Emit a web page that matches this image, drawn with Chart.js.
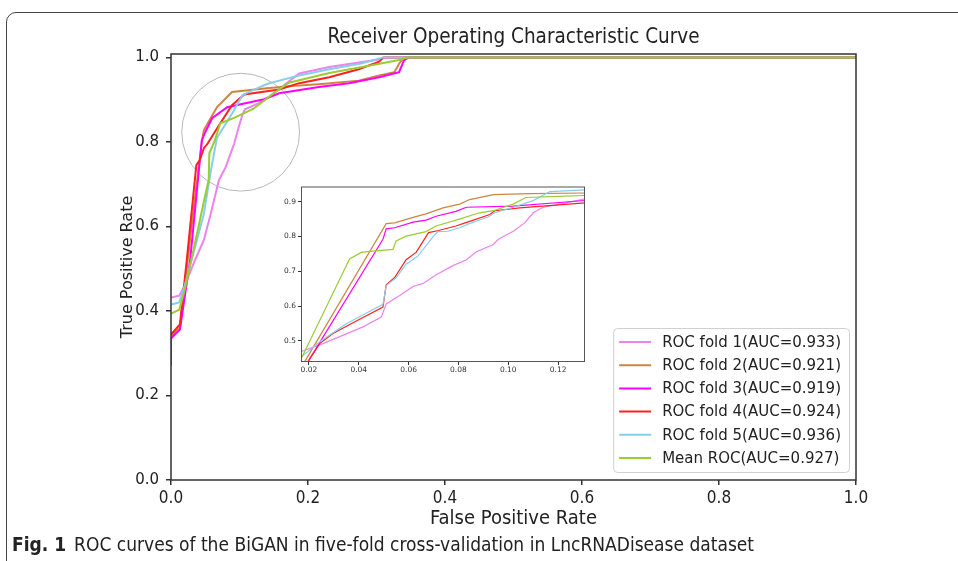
<!DOCTYPE html>
<html>
<head>
<meta charset="utf-8">
<title>ROC curves</title>
<script src="https://cdn.jsdelivr.net/npm/chart.js@4.4.0/dist/chart.umd.min.js"></script>
<style>
    html, body { margin: 0; padding: 0; background: #fff; }
    body { width: 958px; height: 561px; position: relative; overflow: hidden; }
    #frame {
        position: absolute; left: 6px; top: 12px; width: 1000px; height: 600px;
        border: 1px solid #444; border-radius: 10px; box-sizing: border-box;
    }
    #rocChart { position: absolute; left: 0; top: 0; }
    #insetChart { position: absolute; left: 270px; top: 180px; }
    #caption {
        position: absolute; left: 12px; top: 534px; line-height: 20px;
        font-family: "Liberation Sans Narrow", "DejaVu Sans Condensed", "Roboto Condensed", sans-serif;
        font-size: 19px; color: #222; white-space: nowrap;
    }
    #caption b { margin-right: 8px; }
</style>
</head>
<body>
<div id="frame"></div>
<canvas id="rocChart" width="958" height="561"></canvas>
<canvas id="insetChart" width="320" height="200"></canvas>
<div id="caption"><b>Fig. 1</b>ROC curves of the BiGAN in five-fold cross-validation in LncRNADisease dataset</div>

<script>
// ---- main plot data ----
const seriesLabels = [
    'ROC fold 1(AUC=0.933)',
    'ROC fold 2(AUC=0.921)',
    'ROC fold 3(AUC=0.919)',
    'ROC fold 4(AUC=0.924)',
    'ROC fold 5(AUC=0.936)',
    'Mean ROC(AUC=0.927)'
];
const seriesColors = ['#ee82ee', '#cd853f', '#ff00ff', '#ff2020', '#87ceeb', '#9acd32'];

const fold1Fpr = [0, 0.012, 0.02, 0.035, 0.048, 0.058, 0.07, 0.08, 0.092, 0.099, 0.104, 0.108, 0.13, 0.145, 0.165, 0.187, 0.231, 0.279, 0.304, 0.315, 1.0];
const fold1Tpr = [0.432, 0.436, 0.46, 0.52, 0.568, 0.63, 0.71, 0.741, 0.795, 0.836, 0.863, 0.877, 0.893, 0.908, 0.934, 0.962, 0.977, 0.989, 0.995, 1.0, 1.0];

const fold2Fpr = [0, 0.013, 0.03, 0.045, 0.048, 0.067, 0.089, 0.14, 0.177, 0.22, 0.274, 0.304, 0.326, 0.333, 0.34, 1.0];
const fold2Tpr = [0.34, 0.36, 0.6, 0.80, 0.828, 0.882, 0.918, 0.927, 0.932, 0.937, 0.945, 0.957, 0.965, 0.985, 1.0, 1.0];

const fold3Fpr = [0, 0, 0.013, 0.028, 0.045, 0.05, 0.06, 0.082, 0.107, 0.136, 0.158, 0.216, 0.26, 0.304, 0.333, 0.34, 0.347, 1.0];
const fold3Tpr = [0.27, 0.335, 0.356, 0.521, 0.804, 0.823, 0.856, 0.882, 0.891, 0.901, 0.915, 0.93, 0.939, 0.953, 0.965, 0.993, 1.0, 1.0];

const fold4Fpr = [0, 0.013, 0.023, 0.037, 0.042, 0.048, 0.053, 0.072, 0.089, 0.107, 0.14, 0.158, 0.187, 0.231, 0.274, 0.304, 0.31, 1.0];
const fold4Tpr = [0.344, 0.368, 0.52, 0.745, 0.757, 0.785, 0.795, 0.844, 0.887, 0.912, 0.92, 0.924, 0.939, 0.953, 0.972, 0.99, 1.0, 1.0];

const fold5Fpr = [0, 0.012, 0.02, 0.035, 0.048, 0.058, 0.067, 0.092, 0.104, 0.111, 0.14, 0.158, 0.187, 0.231, 0.279, 0.31, 1.0];
const fold5Tpr = [0.415, 0.42, 0.46, 0.55, 0.63, 0.73, 0.809, 0.875, 0.91, 0.916, 0.937, 0.945, 0.957, 0.972, 0.986, 1.0, 1.0];

const meanFpr = [0, 0.012, 0.02, 0.035, 0.048, 0.055, 0.056, 0.064, 0.072, 0.092, 0.12, 0.148, 0.172, 0.231, 0.289, 0.333, 0.345, 1.0];
const meanTpr = [0.394, 0.403, 0.45, 0.56, 0.659, 0.71, 0.773, 0.804, 0.844, 0.857, 0.878, 0.913, 0.94, 0.963, 0.98, 0.994, 1.0, 1.0];

const axisTicks = [0, 0.2, 0.4, 0.6, 0.8, 1.0];

// ---- zoomed inset data ----
const inset1Fpr = [0.015, 0.0256, 0.0417, 0.049, 0.051, 0.0564, 0.0618, 0.0658, 0.0711, 0.0778, 0.0832, 0.0872, 0.094, 0.096, 0.102, 0.1066, 0.11, 0.114, 0.1193, 0.132];
const inset1Tpr = [0.464, 0.492, 0.54, 0.568, 0.606, 0.63, 0.656, 0.665, 0.69, 0.716, 0.733, 0.756, 0.777, 0.792, 0.815, 0.839, 0.868, 0.884, 0.891, 0.91];

const inset2Fpr = [0.0183, 0.051, 0.0544, 0.0618, 0.067, 0.0738, 0.0805, 0.0845, 0.094, 0.1086, 0.132];
const inset2Tpr = [0.44, 0.837, 0.839, 0.855, 0.865, 0.882, 0.893, 0.906, 0.92, 0.923, 0.925];

const inset3Fpr = [0.0196, 0.0497, 0.051, 0.0544, 0.0618, 0.067, 0.071, 0.079, 0.0832, 0.102, 0.132];
const inset3Tpr = [0.44, 0.792, 0.822, 0.825, 0.841, 0.847, 0.858, 0.872, 0.884, 0.887, 0.904];

const inset4Fpr = [0.0196, 0.0243, 0.0296, 0.039, 0.0497, 0.051, 0.0544, 0.059, 0.063, 0.068, 0.072, 0.079, 0.0839, 0.0926, 0.0946, 0.1046, 0.132];
const inset4Tpr = [0.44, 0.492, 0.521, 0.557, 0.597, 0.661, 0.682, 0.733, 0.754, 0.811, 0.817, 0.83, 0.842, 0.863, 0.874, 0.882, 0.897];

const inset5Fpr = [0.0163, 0.0243, 0.035, 0.0497, 0.051, 0.0551, 0.059, 0.0638, 0.07, 0.0718, 0.0758, 0.0805, 0.0852, 0.0919, 0.0946, 0.102, 0.11, 0.1167, 0.132];
const inset5Tpr = [0.45, 0.497, 0.549, 0.605, 0.659, 0.682, 0.72, 0.744, 0.801, 0.814, 0.815, 0.825, 0.839, 0.856, 0.868, 0.884, 0.903, 0.929, 0.934];

const insetMeanFpr = [0.0163, 0.0363, 0.041, 0.0444, 0.0537, 0.055, 0.059, 0.067, 0.071, 0.08, 0.0885, 0.094, 0.102, 0.107, 0.12, 0.132];
const insetMeanTpr = [0.44, 0.735, 0.754, 0.757, 0.763, 0.787, 0.801, 0.814, 0.83, 0.849, 0.868, 0.874, 0.893, 0.912, 0.915, 0.918];

const insetXTicks = [0.02, 0.04, 0.06, 0.08, 0.10, 0.12];
const insetYTicks = [0.5, 0.6, 0.7, 0.8, 0.9];

(function() {
    'use strict';

    const NARROW = '"Liberation Sans Narrow", "DejaVu Sans Condensed", "Roboto Condensed", sans-serif';
    const SANS = '"DejaVu Sans", sans-serif';
    const AXIS = '#333';

    // circle marking the zoomed region (data units)
    const zoomCircle = { x: 0.1017, y: 0.823, r: 0.086 };

    function toPoints(xs, ys) {
        return xs.map(function(v, i) { return { x: v, y: ys[i] }; });
    }

    function makeDatasets(pairs, width) {
        return pairs.map(function(p, i) {
            return {
                label: seriesLabels[i],
                data: toPoints(p[0], p[1]),
                borderColor: seriesColors[i],
                backgroundColor: seriesColors[i],
                borderWidth: width,
                pointRadius: 0,
                tension: 0,
                fill: false,
                order: pairs.length - i
            };
        });
    }

    function fixedTicks(list) {
        return function(scale) {
            scale.ticks = list.map(function(v) { return { value: v }; });
        };
    }

    const rocDecor = {
        id: 'rocDecor',
        beforeDatasetsDraw(chart) {
            const { ctx, scales: { x, y } } = chart;
            const cx = x.getPixelForValue(zoomCircle.x);
            const cy = y.getPixelForValue(zoomCircle.y);
            const r = x.getPixelForValue(zoomCircle.x + zoomCircle.r) - cx;
            ctx.save();
            ctx.beginPath();
            ctx.arc(cx, cy, r, 0, Math.PI * 2);
            ctx.strokeStyle = '#b8b8b8';
            ctx.lineWidth = 1;
            ctx.stroke();
            ctx.restore();
        },
        afterDatasetsDraw(chart) {
            const { ctx, chartArea: a } = chart;
            ctx.save();
            // axes box
            ctx.strokeStyle = AXIS;
            ctx.lineWidth = 1.5;
            ctx.strokeRect(a.left, a.top, a.right - a.left, a.bottom - a.top);

            // legend, lower right inside the axes
            ctx.font = '15px ' + SANS;
            let textW = 0;
            chart.data.datasets.forEach(function(ds) {
                textW = Math.max(textW, ctx.measureText(ds.label).width);
            });
            const rowH = 23.2;
            const boxW = 49 + textW + 8;
            const boxH = 144;
            const bx = a.right - 7 - boxW;
            const by = a.bottom - 8 - boxH;
            ctx.beginPath();
            ctx.roundRect(bx + 0.5, by + 0.5, boxW, boxH, 4);
            ctx.fillStyle = 'rgba(255,255,255,0.85)';
            ctx.fill();
            ctx.strokeStyle = '#d0d0d0';
            ctx.lineWidth = 1;
            ctx.stroke();
            ctx.textBaseline = 'middle';
            ctx.textAlign = 'left';
            chart.data.datasets.forEach(function(ds, i) {
                const ry = by + 14 + i * rowH;
                ctx.beginPath();
                ctx.moveTo(bx + 6, ry);
                ctx.lineTo(bx + 38, ry);
                ctx.strokeStyle = ds.borderColor;
                ctx.lineWidth = 2;
                ctx.stroke();
                ctx.fillStyle = '#222';
                ctx.fillText(ds.label, bx + 49, ry + 1);
            });
            ctx.restore();
        }
    };

    const insetDecor = {
        id: 'insetDecor',
        beforeDraw(chart) {
            const { ctx, chartArea: a } = chart;
            ctx.save();
            ctx.fillStyle = '#fff';
            ctx.fillRect(a.left, a.top, a.right - a.left, a.bottom - a.top);
            ctx.restore();
        },
        afterDatasetsDraw(chart) {
            const { ctx, chartArea: a } = chart;
            ctx.save();
            ctx.strokeStyle = '#555';
            ctx.lineWidth = 1;
            ctx.strokeRect(a.left + 0.5, a.top + 0.5, a.right - a.left - 1, a.bottom - a.top - 1);
            ctx.restore();
        }
    };

    function initRocChart() {
        const canvas = document.getElementById('rocChart');
        if (!canvas || typeof Chart === 'undefined') {
            console.error('ROC chart: canvas or Chart.js missing');
            return;
        }

        const datasets = makeDatasets([
            [fold1Fpr, fold1Tpr], [fold2Fpr, fold2Tpr], [fold3Fpr, fold3Tpr],
            [fold4Fpr, fold4Tpr], [fold5Fpr, fold5Tpr], [meanFpr, meanTpr]
        ], 2);

        new Chart(canvas, {
            type: 'line',
            data: { datasets: datasets },
            options: {
                responsive: false,
                animation: false,
                devicePixelRatio: 1,
                layout: { padding: { left: 0, right: 102, top: 0, bottom: 0 } },
                plugins: {
                    legend: { display: false },
                    tooltip: { enabled: false },
                    title: {
                        display: true,
                        fullSize: false,
                        text: 'Receiver Operating Characteristic Curve',
                        color: '#222',
                        font: { family: NARROW, size: 20.5, weight: 'normal', lineHeight: 1.2 },
                        padding: { top: 25, bottom: 4.4 }
                    }
                },
                scales: {
                    x: {
                        type: 'linear',
                        min: 0,
                        max: 1,
                        afterBuildTicks: fixedTicks(axisTicks),
                        afterFit: function(scale) { scale.height = 81; },
                        grid: { drawOnChartArea: false, drawTicks: true, tickLength: 5, color: AXIS, lineWidth: 1.5 },
                        border: { display: false },
                        ticks: {
                            color: '#222',
                            padding: 3,
                            maxRotation: 0,
                            font: { family: NARROW, size: 17 },
                            callback: function(v) { return v.toFixed(1); }
                        },
                        title: {
                            display: true,
                            text: 'False Positive Rate',
                            color: '#222',
                            font: { family: NARROW, size: 20, lineHeight: 1.2 },
                            padding: { top: 0, bottom: 30 }
                        }
                    },
                    y: {
                        type: 'linear',
                        min: 0,
                        max: 1.008,
                        afterBuildTicks: fixedTicks(axisTicks),
                        afterFit: function(scale) { scale.width = 171; },
                        grid: { drawOnChartArea: false, drawTicks: true, tickLength: 5, color: AXIS, lineWidth: 1.5 },
                        border: { display: false },
                        ticks: {
                            color: '#222',
                            padding: 7,
                            font: { family: SANS, size: 15 },
                            callback: function(v) { return v.toFixed(1); }
                        },
                        title: {
                            display: true,
                            text: 'True Positive Rate',
                            color: '#222',
                            font: { family: SANS, size: 16, lineHeight: 1.2 },
                            padding: { top: 118, bottom: 0 }
                        }
                    }
                }
            },
            plugins: [rocDecor]
        });
    }

    function initInsetChart() {
        const canvas = document.getElementById('insetChart');
        if (!canvas) return;

        const datasets = makeDatasets([
            [inset1Fpr, inset1Tpr], [inset2Fpr, inset2Tpr], [inset3Fpr, inset3Tpr],
            [inset4Fpr, inset4Tpr], [inset5Fpr, inset5Tpr], [insetMeanFpr, insetMeanTpr]
        ], 1.2);

        new Chart(canvas, {
            type: 'line',
            data: { datasets: datasets },
            options: {
                responsive: false,
                animation: false,
                devicePixelRatio: 1,
                layout: { padding: { left: 0, right: 5, top: 5, bottom: 0 } },
                plugins: { legend: { display: false }, tooltip: { enabled: false } },
                scales: {
                    x: {
                        type: 'linear',
                        min: 0.0168,
                        max: 0.1308,
                        afterBuildTicks: fixedTicks(insetXTicks),
                        afterFit: function(scale) { scale.height = 18; },
                        grid: { drawOnChartArea: false, tickLength: 3, color: AXIS },
                        border: { display: false },
                        ticks: {
                            color: '#333', padding: 1, maxRotation: 0,
                            font: { family: SANS, size: 7.5 },
                            callback: function(v) { return v.toFixed(2); }
                        }
                    },
                    y: {
                        type: 'linear',
                        min: 0.439,
                        max: 0.9436,
                        afterBuildTicks: fixedTicks(insetYTicks),
                        afterFit: function(scale) { scale.width = 31; },
                        grid: { drawOnChartArea: false, tickLength: 3, color: AXIS },
                        border: { display: false },
                        ticks: {
                            color: '#333', padding: 2,
                            font: { family: SANS, size: 7.5 },
                            callback: function(v) { return v.toFixed(1); }
                        }
                    }
                }
            },
            plugins: [insetDecor]
        });
    }

    if (document.readyState === 'loading') {
        document.addEventListener('DOMContentLoaded', function() { initRocChart(); initInsetChart(); });
    } else {
        initRocChart();
        initInsetChart();
    }
})();
</script>
</body>
</html>
